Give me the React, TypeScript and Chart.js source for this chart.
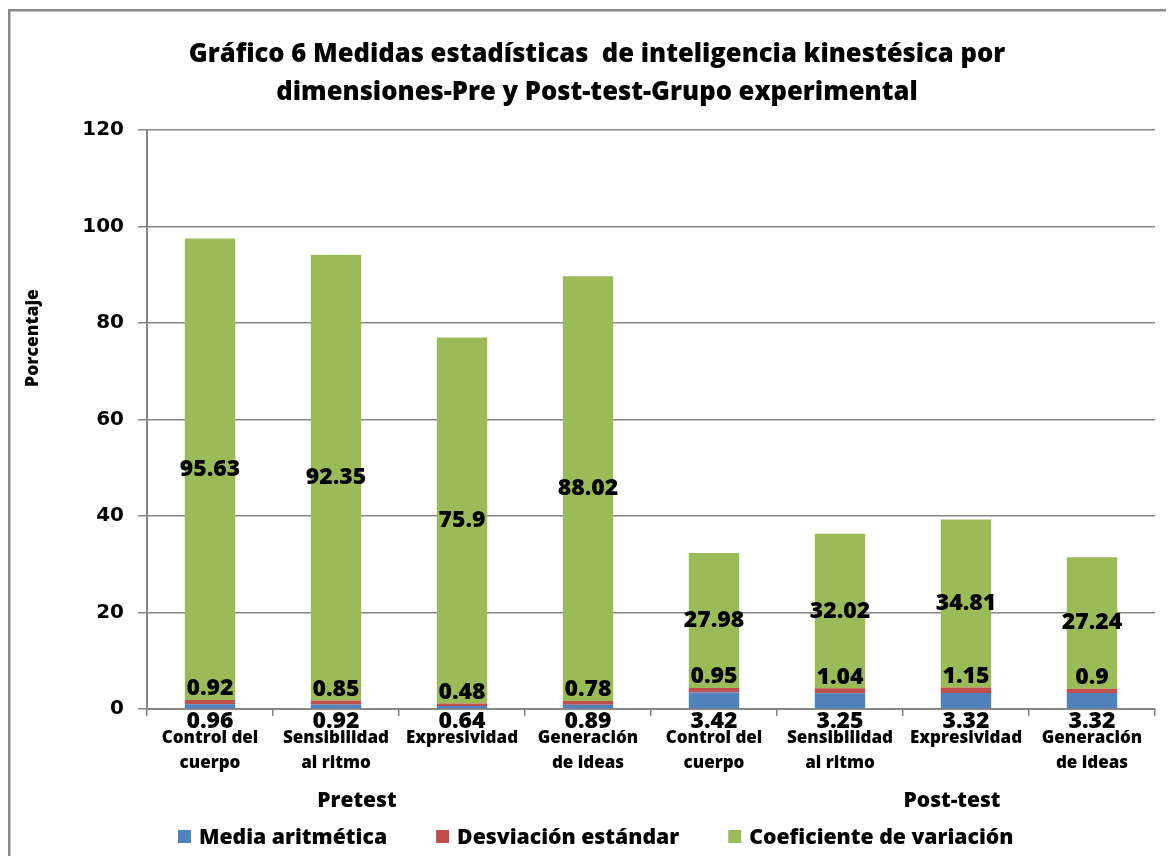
import React, { useEffect, useRef } from "react";
import { Chart, registerables } from "chart.js";

Chart.register(...registerables);

const categories: string[][] = [
  ["Control del", "cuerpo"],
  ["Sensibilidad", "al ritmo"],
  ["Expresividad"],
  ["Generación", "de ideas"],
  ["Control del", "cuerpo"],
  ["Sensibilidad", "al ritmo"],
  ["Expresividad"],
  ["Generación", "de ideas"],
];
const mediaAritmetica = [0.96, 0.92, 0.64, 0.89, 3.42, 3.25, 3.32, 3.32];
const desviacionEstandar = [0.92, 0.85, 0.48, 0.78, 0.95, 1.04, 1.15, 0.9];
const coeficienteVariacion = [95.63, 92.35, 75.9, 88.02, 27.98, 32.02, 34.81, 27.24];
const seriesNames = ["Media aritmética", "Desviación estándar", "Coeficiente de variación"];
const seriesColors = ["#4F81BD", "#C0504D", "#9BBB59"];
const groupLabels = ["Pretest", "Post-test"];
const titleLines = [
  "Gráfico 6 Medidas estadísticas  de inteligencia kinestésica por",
  "dimensiones-Pre y Post-test-Grupo experimental",
];
const yAxisTitle = "Porcentaje";
const yMax = 120;
const yStep = 20;

const FONT = "'Open Sans', Lato, sans-serif";
const GRID = "#868686";

const overlayPlugin = {
  id: "overlay",
  beforeDraw(chart: any) {
    const ctx = chart.ctx;
    ctx.save();
    ctx.fillStyle = "#ffffff";
    ctx.fillRect(0, 0, chart.width, chart.height);
    ctx.strokeStyle = "#8a8a8a";
    ctx.lineWidth = 2.5;
    ctx.strokeRect(1.25, 2.25, chart.width + 20, chart.height + 20);
    ctx.restore();
  },
  afterDatasetsDraw(chart: any) {
    const ctx = chart.ctx;
    ctx.save();
    ctx.fillStyle = "#000";
    ctx.font = `800 23px ${FONT}`;
    ctx.textAlign = "center";
    ctx.textBaseline = "middle";
    chart.data.datasets.forEach((ds: any, i: number) => {
      const meta = chart.getDatasetMeta(i);
      meta.data.forEach((bar: any, j: number) => {
        const v = ds.data[j];
        let y: number;
        if (i === 0) y = bar.base + 13;
        else if (i === 1) y = bar.y - 11;
        else y = (bar.y + bar.base) / 2;
        ctx.fillText(String(v), bar.x, y);
      });
    });
    ctx.restore();
  },
  afterDraw(chart: any) {
    const ctx = chart.ctx;
    const area = chart.chartArea;
    ctx.save();
    ctx.fillStyle = "#000";
    ctx.textAlign = "center";
    ctx.textBaseline = "middle";
    // Title
    ctx.font = `800 25.6px ${FONT}`;
    titleLines.forEach((t, k) => ctx.fillText(t, 589, 47 + k * 38));
    // Y axis title
    ctx.save();
    ctx.translate(25, area.top + 208);
    ctx.rotate(-Math.PI / 2);
    ctx.font = `800 17.5px ${FONT}`;
    ctx.fillText(yAxisTitle, 0, 0);
    ctx.restore();
    // Group labels
    ctx.font = `800 21px ${FONT}`;
    const w = area.right - area.left;
    const fr = [0.2083, 0.7986];
    groupLabels.forEach((g, k) => ctx.fillText(g, area.left + fr[k] * w, 793));
    // Legend
    ctx.font = `800 21.2px ${FONT}`;
    ctx.textAlign = "left";
    let x = 170;
    const ly = 829;
    seriesNames.forEach((n, k) => {
      ctx.fillStyle = seriesColors[k];
      ctx.fillRect(x, ly - 7, 13, 13);
      ctx.fillStyle = "#000";
      ctx.fillText(n, x + 21, ly + 1);
      x += 21 + ctx.measureText(n).width + 49;
    });
    ctx.restore();
  },
};

export default function App() {
  const ref = useRef<HTMLCanvasElement | null>(null);
  useEffect(() => {
    if (!ref.current) return;
    const chart = new Chart(ref.current, {
      type: "bar",
      data: {
        labels: categories,
        datasets: [
          { label: seriesNames[0], data: mediaAritmetica, backgroundColor: seriesColors[0] },
          { label: seriesNames[1], data: desviacionEstandar, backgroundColor: seriesColors[1] },
          { label: seriesNames[2], data: coeficienteVariacion, backgroundColor: seriesColors[2] },
        ],
      },
      options: {
        responsive: false,
        animation: false,
        layout: { padding: { left: 0, right: 19, top: 122, bottom: 0 } },
        datasets: { bar: { categoryPercentage: 1, barPercentage: 0.4 } },
        plugins: {
          legend: { display: false },
          title: { display: false },
          tooltip: { enabled: false },
        },
        scales: {
          x: {
            stacked: true,
            grid: {
              drawOnChartArea: false,
              drawTicks: true,
              tickLength: 7,
              color: GRID,
              lineWidth: 1.5,
            },
            border: { color: GRID, width: 2 },
            ticks: {
              color: "#000",
              font: { family: FONT, size: 17, weight: "800", lineHeight: "25px" },
              padding: 10,
              maxRotation: 0,
              autoSkip: false,
            },
            afterFit: (s: any) => {
              s.height = 147;
            },
          },
          y: {
            stacked: true,
            min: 0,
            max: yMax,
            ticks: {
              stepSize: yStep,
              color: "#000",
              font: { family: "'DejaVu Sans', Verdana, sans-serif", size: 20, weight: "bold" },
              padding: 14,
            },
            grid: { color: GRID, lineWidth: 1.5, tickLength: 9 },
            border: { color: GRID, width: 2 },
            afterFit: (s: any) => {
              s.width = 139;
            },
          },
        },
      },
      plugins: [overlayPlugin],
    });
    return () => chart.destroy();
  }, []);
  return <canvas ref={ref} width={1166} height={848} style={{ display: "block" }} />;
}
